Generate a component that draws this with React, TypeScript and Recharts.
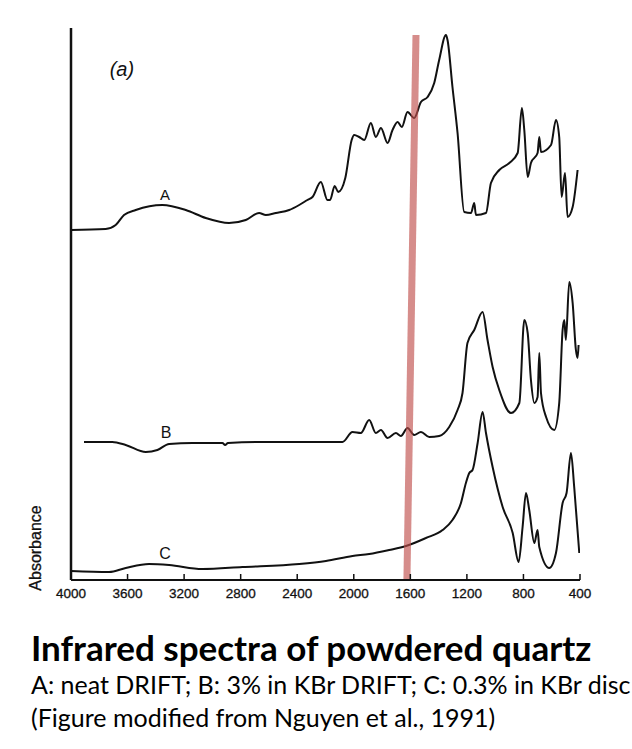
import React from "react";
import {
  LineChart,
  Line,
  XAxis,
  YAxis,
  ReferenceLine,
  ReferenceDot,
} from "recharts";

// wavenumber (cm-1) and absorbance (arbitrary units)
const wnA = [4000, 3755, 3684, 3625, 3542, 3354, 3188, 3047, 2882, 2764, 2670, 2622, 2551, 2457, 2386, 2328, 2292, 2233, 2186, 2168, 2135, 2110, 2060, 2015, 1997, 1962, 1926, 1879, 1844, 1808, 1761, 1726, 1690, 1660, 1620, 1573, 1525, 1478, 1431, 1396, 1348, 1337, 1302, 1266, 1219, 1171, 1148, 1136, 1065, 1030, 971, 900, 841, 811, 794, 770, 747, 700, 688, 676, 605, 570, 547, 530, 506, 488, 452, 417];
const absA = [350, 351, 355, 365, 370, 375, 370, 362, 357, 360, 367, 365, 367, 370, 375, 380, 383, 398, 380, 380, 394, 388, 402, 440, 445, 443, 440, 457, 443, 452, 437, 450, 458, 453, 468, 462, 478, 483, 497, 520, 545, 540, 493, 447, 368, 367, 377, 365, 367, 397, 410, 417, 427, 472, 450, 403, 417, 427, 443, 428, 435, 460, 443, 383, 407, 363, 373, 410];

const wnB = [3908, 3708, 3613, 3471, 3389, 3306, 3141, 2929, 2910, 2890, 2670, 2080, 2009, 1950, 1891, 1844, 1808, 1761, 1702, 1667, 1620, 1573, 1525, 1466, 1396, 1325, 1266, 1231, 1196, 1148, 1089, 1054, 1018, 971, 888, 829, 794, 770, 747, 723, 700, 688, 676, 640, 582, 547, 523, 511, 500, 476, 452, 429, 417, 410];
const absB = [138, 138, 135, 128, 130, 136, 137, 137, 135, 137, 138, 138, 148, 147, 160, 147, 150, 142, 147, 144, 152, 145, 148, 143, 144, 153, 170, 187, 237, 250, 268, 240, 213, 190, 167, 177, 260, 247, 200, 177, 183, 227, 187, 163, 150, 177, 250, 260, 240, 298, 277, 230, 222, 235];

const wnC = [4000, 3731, 3613, 3448, 3306, 3071, 2788, 2386, 2197, 2009, 1891, 1750, 1631, 1490, 1372, 1302, 1242, 1207, 1183, 1160, 1124, 1089, 1065, 1018, 947, 876, 834, 806, 782, 759, 723, 700, 688, 617, 570, 523, 495, 464, 441, 405];
const absC = [9, 8, 12, 16, 15, 11, 13, 16, 19, 24, 26, 30, 34, 42, 50, 60, 77, 97, 107, 110, 137, 168, 147, 113, 73, 47, 18, 53, 87, 70, 37, 50, 33, 12, 27, 77, 87, 127, 93, 27];

const xTicks = [4000, 3600, 3200, 2800, 2400, 2000, 1600, 1200, 800, 400];

const toRows = (wn: number[], abs: number[]) => wn.map((w, i) => ({ wn: w, abs: abs[i] }));
const dataA = toRows(wnA, absA);
const dataB = toRows(wnB, absB);
const dataC = toRows(wnC, absC);

const AXIS_FONT = "'Liberation Sans', Arial, sans-serif";
const TEXT_FONT = "Lato, 'Open Sans', sans-serif";

function WnTick({ x, y, payload }: any) {
  return (
    <g>
      <line x1={x} x2={x} y1={y - 6} y2={y} stroke="#111" strokeWidth={1.5} />
      <text
        x={x}
        y={y + 18}
        textAnchor="middle"
        fontSize={13.5}
        fontFamily={AXIS_FONT}
        fill="#111"
        stroke="#111"
        strokeWidth={0.3}
      >
        {payload.value}
      </text>
    </g>
  );
}

function AbsLabel() {
  const cx = 35;
  const cy = 548;
  return (
    <text
      x={cx}
      y={cy}
      transform={`rotate(-90 ${cx} ${cy})`}
      textAnchor="middle"
      dominantBaseline="central"
      fontSize={16}
      fontFamily={AXIS_FONT}
      fill="#111"
      stroke="#111"
      strokeWidth={0.3}
    >
      Absorbance
    </text>
  );
}

const traceLabel = (value: string, size = 14, italic = false) => ({
  value,
  position: "center" as const,
  fontSize: size,
  fontFamily: AXIS_FONT,
  fontStyle: italic ? "italic" : "normal",
  fill: "#111",
});

export default function App() {
  return (
    <div
      style={{
        position: "absolute",
        left: 0,
        top: 0,
        width: 632,
        height: 749,
        background: "#fff",
        overflow: "hidden",
      }}
    >
      <LineChart width={632} height={620} margin={{ top: 28, right: 52, left: 31, bottom: 10 }}>
        <XAxis
          type="number"
          dataKey="wn"
          domain={[400, 4000]}
          reversed
          ticks={xTicks}
          height={30}
          tickLine={false}
          tickSize={0}
          tickMargin={0}
          tick={<WnTick />}
          axisLine={{ stroke: "#111", strokeWidth: 2 }}
          allowDataOverflow
        />
        <YAxis
          type="number"
          domain={[0, 552]}
          width={40}
          tick={false}
          tickLine={false}
          axisLine={{ stroke: "#111", strokeWidth: 2.5 }}
          label={<AbsLabel />}
        />
        <Line data={dataA} dataKey="abs" type="monotone" stroke="#111" strokeWidth={2} dot={false} isAnimationActive={false} />
        <Line data={dataB} dataKey="abs" type="monotone" stroke="#111" strokeWidth={2} dot={false} isAnimationActive={false} />
        <Line data={dataC} dataKey="abs" type="monotone" stroke="#111" strokeWidth={2} dot={false} isAnimationActive={false} />
        <ReferenceDot x={3640} y={511} r={1} fill="none" stroke="none" label={traceLabel("(a)", 20, true)} />
        <ReferenceDot x={3335} y={385} r={1} fill="none" stroke="none" label={traceLabel("A", 15)} />
        <ReferenceDot x={3328} y={148} r={1} fill="none" stroke="none" label={traceLabel("B", 16)} />
        <ReferenceDot x={3335} y={27} r={1} fill="none" stroke="none" label={traceLabel("C", 16)} />
        <ReferenceLine
          segment={[
            { x: 1560, y: 545 },
            { x: 1624, y: 1 },
          ]}
          stroke="#c0504d"
          strokeOpacity={0.65}
          strokeWidth={7}
          ifOverflow="visible"
        />
      </LineChart>
      <div
        style={{
          position: "absolute",
          left: 31,
          top: 626,
          fontFamily: TEXT_FONT,
          fontWeight: 700,
          fontSize: 35,
          lineHeight: "42px",
          color: "#000",
          whiteSpace: "nowrap",
        }}
      >
        Infrared spectra of powdered quartz
      </div>
      <div
        style={{
          position: "absolute",
          left: 31,
          top: 668,
          fontFamily: TEXT_FONT,
          fontSize: 25,
          lineHeight: "33px",
          color: "#000",
          whiteSpace: "nowrap",
        }}
      >
        A: neat DRIFT; B: 3% in KBr DRIFT; C: 0.3% in KBr disc
        <br />
        (Figure modified from Nguyen et al., 1991)
      </div>
    </div>
  );
}
